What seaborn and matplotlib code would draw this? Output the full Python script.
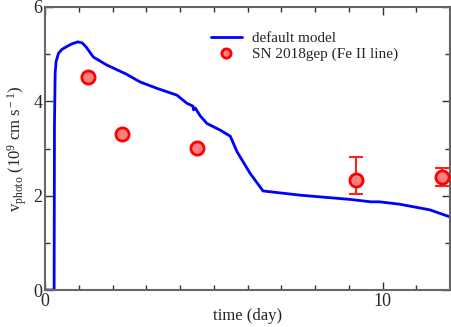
import numpy as np
import pandas as pd
import matplotlib
matplotlib.use("Agg")
import matplotlib.pyplot as plt
import seaborn as sns
from matplotlib.ticker import MultipleLocator

# --- model curve ---
model_time = [0.0, 0.27, 0.28, 0.30, 0.33, 0.40, 0.50, 0.64, 0.80, 0.97, 1.10, 1.22,
              1.43, 1.83, 2.40, 2.82, 3.30, 3.91, 4.20, 4.38, 4.40, 4.45, 4.60, 4.80,
              5.19, 5.49, 5.69, 6.08, 6.46, 7.57, 9.05, 9.65, 9.90, 10.50, 11.40, 12.0]
model_v = [0.0, 0.0, 3.5, 4.6, 4.85, 5.02, 5.10, 5.16, 5.22, 5.26, 5.24, 5.15,
           4.94, 4.77, 4.58, 4.41, 4.28, 4.13, 3.96, 3.90, 3.82, 3.86, 3.69, 3.53,
           3.39, 3.26, 2.93, 2.47, 2.10, 2.01, 1.92, 1.87, 1.87, 1.82, 1.70, 1.55]

# --- SN 2018gep Fe II line velocities ---
obs_time = [1.28, 2.28, 4.51, 9.20, 11.75]
obs_v = [4.51, 3.30, 3.01, 2.33, 2.39]
obs_err_lo = [0.0, 0.0, 0.0, 0.30, 0.19]
obs_err_hi = [0.0, 0.0, 0.0, 0.49, 0.19]

model = pd.DataFrame({"time": model_time, "v": model_v})
obs = pd.DataFrame({"time": obs_time, "v": obs_v})

sns.set_style("ticks")
plt.rcParams["font.family"] = ["Liberation Serif", "DejaVu Serif"]
plt.rcParams["mathtext.fontset"] = "custom"
plt.rcParams["mathtext.rm"] = "Liberation Serif"
plt.rcParams["mathtext.it"] = "Liberation Serif:italic"

fig = plt.figure(figsize=(4.52, 3.27), dpi=100)
ax = fig.add_axes([0.0996, 0.1131, 0.896, 0.8655])

sns.lineplot(data=model, x="time", y="v", ax=ax, color="#0000ff", lw=2,
             label="default model", estimator=None, sort=False)
ax.errorbar(obs_time, obs_v, yerr=[obs_err_lo, obs_err_hi], fmt="none",
            ecolor="#ff2020", elinewidth=1.5, capsize=5, capthick=1.5, zorder=3)
sns.scatterplot(data=obs, x="time", y="v", ax=ax, s=90, color="#ff8080",
                edgecolor="#ff0000", linewidth=2, label="SN 2018gep (Fe II line)",
                zorder=4)

ax.set_xlim(0, 12)
ax.set_ylim(0, 6)
ax.xaxis.set_major_locator(MultipleLocator(10))
ax.xaxis.set_minor_locator(MultipleLocator(1))
ax.yaxis.set_major_locator(MultipleLocator(2))
ax.yaxis.set_minor_locator(MultipleLocator(1))
ax.tick_params(which="both", direction="in", top=True, right=True,
               color="#333333", labelsize=13, pad=2)
ax.tick_params(which="major", length=6, width=1)
ax.tick_params(which="minor", length=3.5, width=1)
for sp in ax.spines.values():
    sp.set_color("#666666")
    sp.set_linewidth(1.5)

ax.set_xlabel("time (day)", fontsize=12, labelpad=-1)
ax.set_ylabel(r"v$_{\rm photo}$ (10$^{\rm 9}$ cm s$^{\rm -1}$)", fontsize=12, labelpad=3)

leg = ax.legend(loc="upper left", bbox_to_anchor=(0.395, 0.935), frameon=False,
                fontsize=11, handlelength=2.0, handletextpad=0.7,
                labelspacing=0.1, borderaxespad=0, markerscale=0.7)

fig.savefig("out.png", dpi=100)
